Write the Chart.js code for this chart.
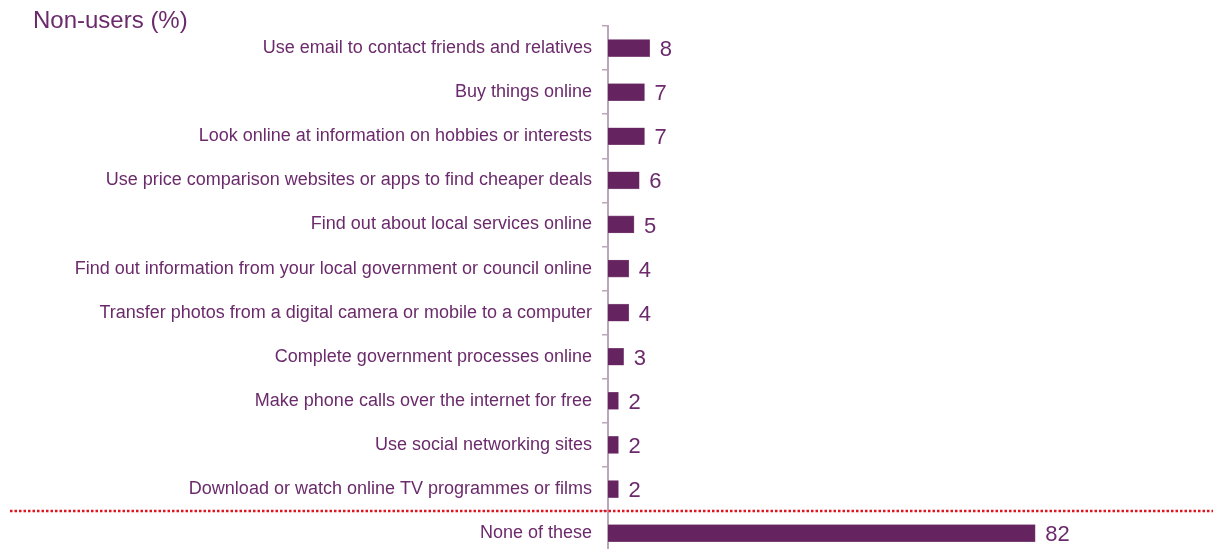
<!DOCTYPE html>
<html>
<head>
<meta charset="utf-8">
<script src="https://cdn.jsdelivr.net/npm/chart.js@4"></script>
<style>
    html, body { margin: 0; padding: 0; background: #fff; overflow: hidden; }
    #wrap { position: relative; width: 1213px; height: 576px; }
    #title { position: absolute; left: 33px; top: 6px; font: 24px "Liberation Sans", Arial, sans-serif; color: #6B2A6B; }
</style>
</head>
<body>
<div id="wrap">
    <div id="title">Non-users (%)</div>
    <canvas id="nonUsersChart" width="1213" height="576"></canvas>
</div>
<script>
const categories = [
    'Use email to contact friends and relatives',
    'Buy things online',
    'Look online at information on hobbies or interests',
    'Use price comparison websites or apps to find cheaper deals',
    'Find out about local services online',
    'Find out information from your local government or council online',
    'Transfer photos from a digital camera or mobile to a computer',
    'Complete government processes online',
    'Make phone calls over the internet for free',
    'Use social networking sites',
    'Download or watch online TV programmes or films',
    'None of these'
];
const nonUsers = [8, 7, 7, 6, 5, 4, 4, 3, 2, 2, 2, 82];
const dividerAfter = 10; // dotted line drawn below this category index

const barColor = '#65245F';
const textColor = '#6B2A6B';

const valueLabels = {
    id: 'valueLabels',
    afterDatasetsDraw(chart) {
        const ctx = chart.ctx;
        const meta = chart.getDatasetMeta(0);
        ctx.save();
        ctx.font = '22px "Liberation Sans", Arial, sans-serif';
        ctx.fillStyle = textColor;
        ctx.textBaseline = 'middle';
        ctx.textAlign = 'left';
        meta.data.forEach((bar, i) => {
            ctx.fillText(String(nonUsers[i]), bar.x + 10, bar.y + 2);
        });
        ctx.restore();
    }
};

const dottedDivider = {
    id: 'dottedDivider',
    afterDraw(chart) {
        const y = chart.scales.y;
        const pos = (y.getPixelForValue(dividerAfter) + y.getPixelForValue(dividerAfter + 1)) / 2;
        const ctx = chart.ctx;
        ctx.save();
        ctx.strokeStyle = '#E0141E';
        ctx.lineWidth = 2.5;
        ctx.setLineDash([2.5, 2]);
        ctx.beginPath();
        ctx.moveTo(10, pos);
        ctx.lineTo(chart.width, pos);
        ctx.stroke();
        ctx.restore();
    }
};

new Chart(document.getElementById('nonUsersChart').getContext('2d'), {
    type: 'bar',
    data: {
        labels: categories,
        datasets: [{
            data: nonUsers,
            backgroundColor: barColor,
            borderColor: '#8E5C88',
            borderWidth: 0.6,
            barThickness: 17
        }]
    },
    options: {
        indexAxis: 'y',
        responsive: false,
        animation: false,
        layout: { padding: { top: 26, bottom: 6, left: 0, right: 84 } },
        plugins: { legend: { display: false }, tooltip: { enabled: false } },
        scales: {
            x: {
                display: false,
                min: 0,
                max: 100
            },
            y: {
                afterFit: (scale) => { scale.width = 608; },
                border: { display: true, color: '#BBA6BA', width: 2 },
                grid: { drawOnChartArea: false, tickLength: 6, color: '#BBA6BA', lineWidth: 1.5 },
                ticks: {
                    padding: 10,
                    color: textColor,
                    font: { family: '"Liberation Sans", Arial, sans-serif', size: 18 }
                }
            }
        }
    },
    plugins: [valueLabels, dottedDivider]
});
</script>
</body>
</html>
